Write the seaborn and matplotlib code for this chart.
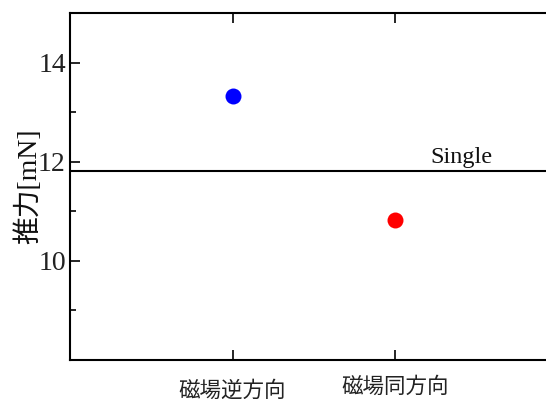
import matplotlib
matplotlib.use("Agg")
import matplotlib.pyplot as plt
import matplotlib.transforms as mtransforms
from matplotlib.ticker import MultipleLocator
import pandas as pd
import seaborn as sns

# Thrust measurements for the two magnetic-field configurations
categories = ["磁場逆方向", "磁場同方向"]
thrust = [13.33, 10.83]
colors = ["#0000ff", "#ff0000"]
single_thrust = 11.82
single_label = "Single"
y_ticks = [10, 12, 14]

sns.set_theme(style="white")
plt.rcParams["font.family"] = ["Liberation Serif", "Noto Sans CJK JP"]

df = pd.DataFrame({"condition": categories, "thrust": thrust})

fig = plt.figure(figsize=(5.46, 3.99), dpi=100)
ax = fig.add_axes([70 / 546, 39 / 399, 487.5 / 546, 347 / 399])

sns.stripplot(data=df, x="condition", y="thrust", hue="condition",
              palette=colors, jitter=False, size=11.5, linewidth=0,
              legend=False, ax=ax, zorder=3)

ax.axhline(single_thrust, color="black", lw=1.5, zorder=2)
ax.text(1.41, single_thrust + 0.16, single_label, ha="center", va="baseline",
        fontsize=17.5, family="Liberation Serif", color="#111111")

ax.set_xlim(-1, 2)
ax.set_ylim(8, 15)
ax.set_yticks(y_ticks)
ax.yaxis.set_minor_locator(MultipleLocator(1))

for side in ["left", "bottom", "top", "right"]:
    ax.spines[side].set_color("black")
    ax.spines[side].set_linewidth(1.5)

ax.tick_params(axis="both", which="major", direction="in", length=7, width=1.2,
               color="black", top=True, bottom=True, left=True, right=False)
ax.tick_params(axis="y", which="minor", direction="in", length=4.5, width=1.2,
               color="black", left=True)
ax.tick_params(axis="y", which="major", labelsize=20, pad=3, labelcolor="#222222")
ax.tick_params(axis="x", which="major", pad=11.5)

ax.set_xticks([0, 1])
ax.set_xticklabels(categories, fontsize=15.5, family="Noto Sans CJK JP",
                   color="#222222")
# first category label sits slightly lower
shift = mtransforms.ScaledTranslation(0, -4 / 100, fig.dpi_scale_trans)
lbls = ax.get_xticklabels()
lbls[0].set_transform(lbls[0].get_transform() + shift)

ax.set_xlabel("")
ax.set_ylabel("推力[mN]", fontsize=20, color="#111111", labelpad=-3)

fig.savefig("out.png", dpi=100)
